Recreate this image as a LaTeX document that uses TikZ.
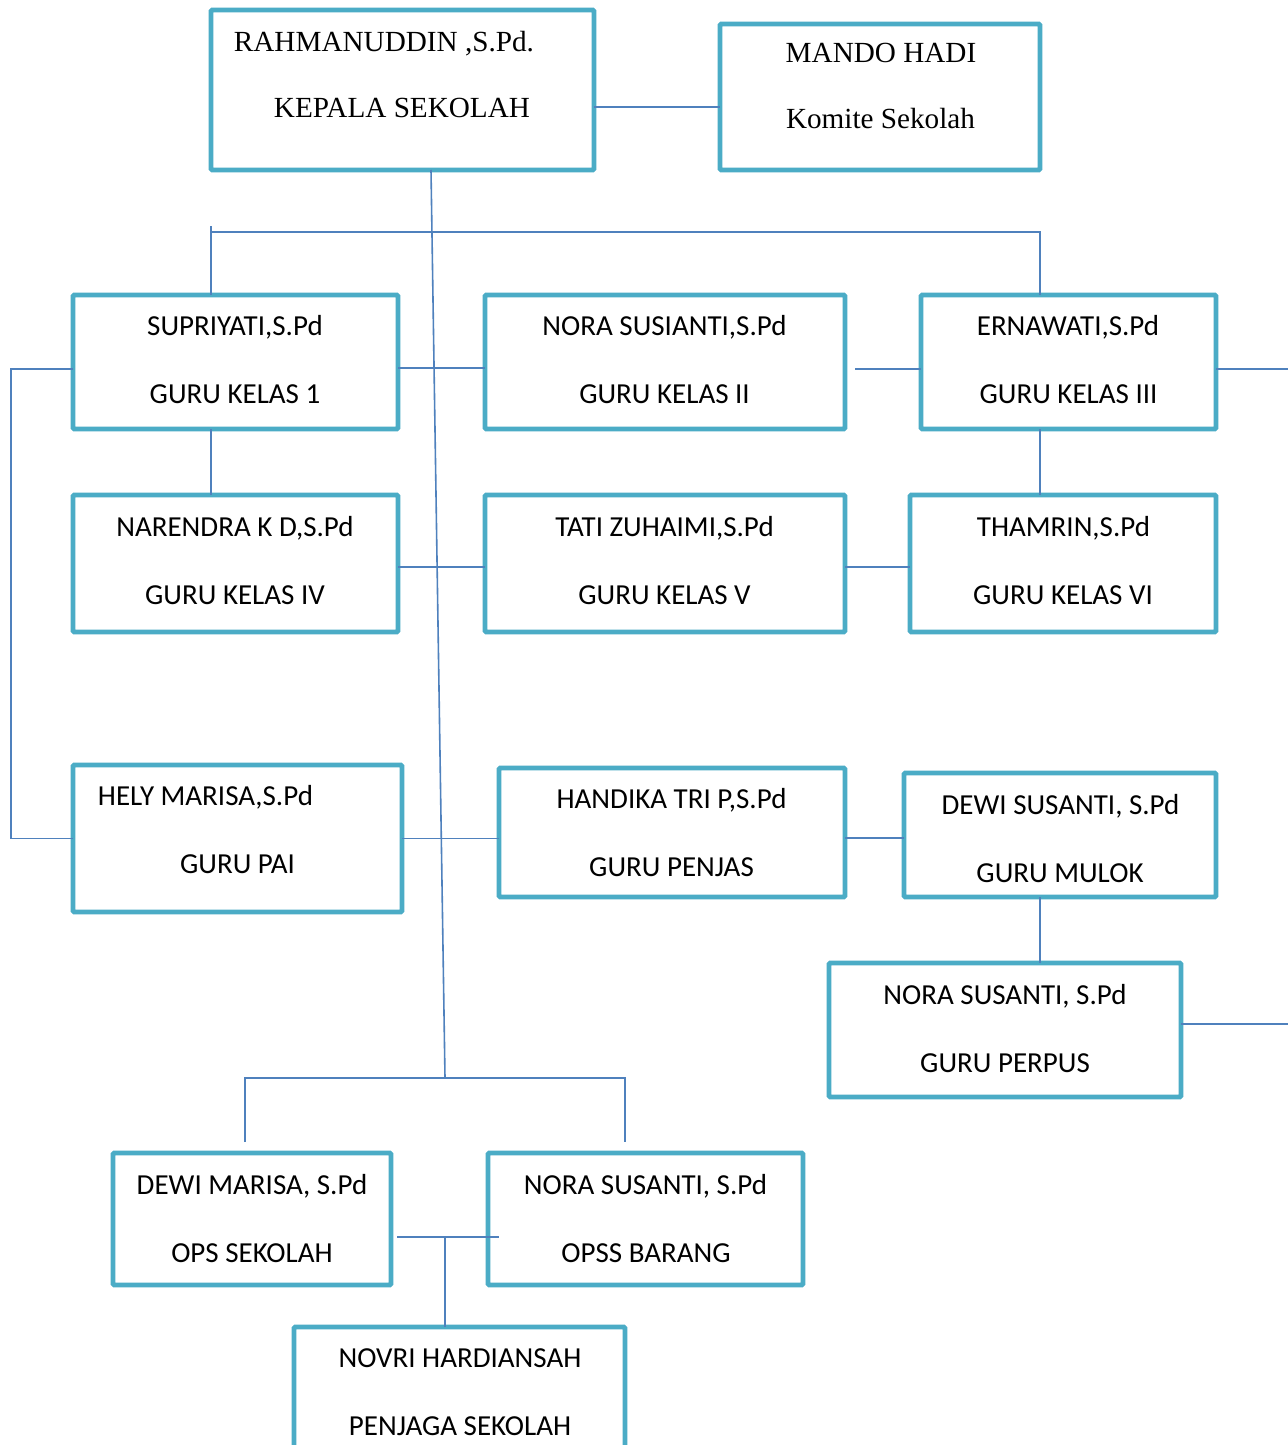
\documentclass[tikz,border=0pt]{standalone}
\usepackage{fontspec}
\setmainfont{Liberation Serif}
\newfontfamily\calib{Carlito}
\definecolor{boxc}{RGB}{75,172,198}
\definecolor{linec}{RGB}{79,129,189}
\begin{document}
\begin{tikzpicture}[x=0.5pt,y=-0.5pt,
  bx/.style={draw=boxc,line width=2.4pt,rounded corners=0.6pt,inner sep=0pt,outer sep=0pt},
  tx/.style={font=\calib\fontsize{14.5}{17}\selectfont,anchor=base,inner sep=0pt},
  ts/.style={font=\fontsize{14.6}{17}\selectfont,anchor=base,inner sep=0pt},
  ln/.style={draw=linec,line width=0.8pt}]
\useasboundingbox[fill=white] (0,0) rectangle (1288,1445);
% boxes
\node[bx,minimum width=191.5pt,minimum height=80pt] (rah) at (402.5,90) {};
\node[bx,minimum width=160pt,minimum height=73pt] (mando) at (880,97) {};
\node[bx,minimum width=162.5pt,minimum height=67pt] (sup) at (235.5,362) {};
\node[bx,minimum width=180pt,minimum height=67pt] (nora2) at (665,362) {};
\node[bx,minimum width=147.5pt,minimum height=67pt] (ern) at (1068.5,362) {};
\node[bx,minimum width=162.5pt,minimum height=68.5pt] (nar) at (235.5,563.5) {};
\node[bx,minimum width=180pt,minimum height=68.5pt] (tati) at (665,563.5) {};
\node[bx,minimum width=153pt,minimum height=68.5pt] (tham) at (1063,563.5) {};
\node[bx,minimum width=164.5pt,minimum height=73.5pt] (hely) at (237.5,838.5) {};
\node[bx,minimum width=173pt,minimum height=64.5pt] (hand) at (672,832.5) {};
\node[bx,minimum width=156pt,minimum height=62pt] (dewi) at (1060,835) {};
\node[bx,minimum width=176pt,minimum height=67pt] (perp) at (1005,1030) {};
\node[bx,minimum width=139pt,minimum height=66pt] (dmar) at (252,1219) {};
\node[bx,minimum width=157.5pt,minimum height=66pt] (opss) at (645.5,1219) {};
\node[bx,minimum width=165.5pt,minimum height=71.5pt] (novri) at (459.5,1398.5) {};
% texts
\node[ts] (rah1) at (384,51.5) {RAHMANUDDIN ,S.Pd.};
\node[ts] (rah2) at (402,117.5) {KEPALA SEKOLAH};
\node[ts] (man1) at (881,62.5) {MANDO HADI};
\node[ts] (man2) at (880.5,128.5) {Komite Sekolah};
\node[tx] (sup1) at (235,335.5) {SUPRIYATI,S.Pd};
\node[tx] (sup2) at (235,403.5) {GURU KELAS 1};
\node[tx] (nor1) at (664.5,335.5) {NORA SUSIANTI,S.Pd};
\node[tx] (nor2) at (664.5,403.5) {GURU KELAS II};
\node[tx] (ern1) at (1068,335.5) {ERNAWATI,S.Pd};
\node[tx] (ern2) at (1068.5,403.5) {GURU KELAS III};
\node[tx] (nar1) at (235,536.5) {NARENDRA K D,S.Pd};
\node[tx] (nar2) at (235,604.5) {GURU KELAS IV};
\node[tx] (tat1) at (664.5,536.5) {TATI ZUHAIMI,S.Pd};
\node[tx] (tat2) at (664.5,604.5) {GURU KELAS V};
\node[tx] (tha1) at (1063.5,536.5) {THAMRIN,S.Pd};
\node[tx] (tha2) at (1063,604.5) {GURU KELAS VI};
\node[tx] (hel1) at (205.5,805.5) {HELY MARISA,S.Pd};
\node[tx] (hel2) at (237.5,873.5) {GURU PAI};
\node[tx] (han1) at (671.5,808.5) {HANDIKA TRI P,S.Pd};
\node[tx] (han2) at (671.5,876.5) {GURU PENJAS};
\node[tx] (dew1) at (1060.5,814.5) {DEWI SUSANTI, S.Pd};
\node[tx] (dew2) at (1060,882.5) {GURU MULOK};
\node[tx] (per1) at (1005,1004.5) {NORA SUSANTI, S.Pd};
\node[tx] (per2) at (1005,1072.5) {GURU PERPUS};
\node[tx] (dma1) at (252,1194.5) {DEWI MARISA, S.Pd};
\node[tx] (dma2) at (252,1262.5) {OPS SEKOLAH};
\node[tx] (ops1) at (645.5,1194.5) {NORA SUSANTI, S.Pd};
\node[tx] (ops2) at (646,1262.5) {OPSS BARANG};
\node[tx] (nov1) at (460,1367.5) {NOVRI HARDIANSAH};
\node[tx] (nov2) at (460,1435.5) {PENJAGA SEKOLAH};
% connectors
\coordinate (hub) at (445,1078);
\coordinate (b1) at (211,232);
\coordinate (b2) at (1040,232);
\coordinate (bt) at (211,226);
\coordinate (e1) at (1288,369);
\coordinate (e2) at (1288,1024);
\coordinate (lft) at (11,369);
\coordinate (p1) at (855,369);
\coordinate (h1) at (245,1078);
\coordinate (h2) at (625,1078);
\coordinate (mid) at (445,1237);
\coordinate (m1) at (397,1237);
\coordinate (m2) at (499,1237);
\draw[ln] ([yshift=-8.5pt]rah.east) -- ([yshift=-8.5pt]rah.east -| mando.west);
\draw[ln] ([xshift=14.25pt]rah.south) -- (hub);
\draw[ln] (bt) -- (bt |- sup.north);
\draw[ln] (b1) -- (b2) -- (b2 |- ern.north);
\draw[ln] ([yshift=-3pt]sup.east) -- ([yshift=-3pt]sup.east -| nora2.west);
\draw[ln] (p1) -- (p1 -| ern.west);
\draw[ln] (e1 -| ern.east) -- (e1);
\draw[ln] (lft -| sup.west) -- (lft) |- (hely.west);
\draw[ln] ([xshift=-12.25pt]sup.south) -- ([xshift=-12.25pt]sup.south |- nar.north);
\draw[ln] ([xshift=-14.25pt]ern.south) -- ([xshift=-14.25pt]ern.south |- tham.north);
\draw[ln] ([yshift=-1.75pt]nar.east) -- ([yshift=-1.75pt]nar.east -| tati.west);
\draw[ln] ([yshift=-1.75pt]tati.east) -- ([yshift=-1.75pt]tati.east -| tham.west);
\draw[ln] (hely.east) -- (hely.east -| hand.west);
\draw[ln] ([yshift=-2.75pt]hand.east) -- ([yshift=-2.75pt]hand.east -| dewi.west);
\draw[ln] ([xshift=-10pt]dewi.south) -- ([xshift=-10pt]dewi.south |- perp.north);
\draw[ln] (e2 -| perp.east) -- (e2);
\draw[ln] (h1 |- 0,1142) -- (h1) -- (h2) -- (h2 |- 0,1142);
\draw[ln] (m1) -- (m2);
\draw[ln] (mid) -- (mid |- novri.north);
\end{tikzpicture}
\end{document}
